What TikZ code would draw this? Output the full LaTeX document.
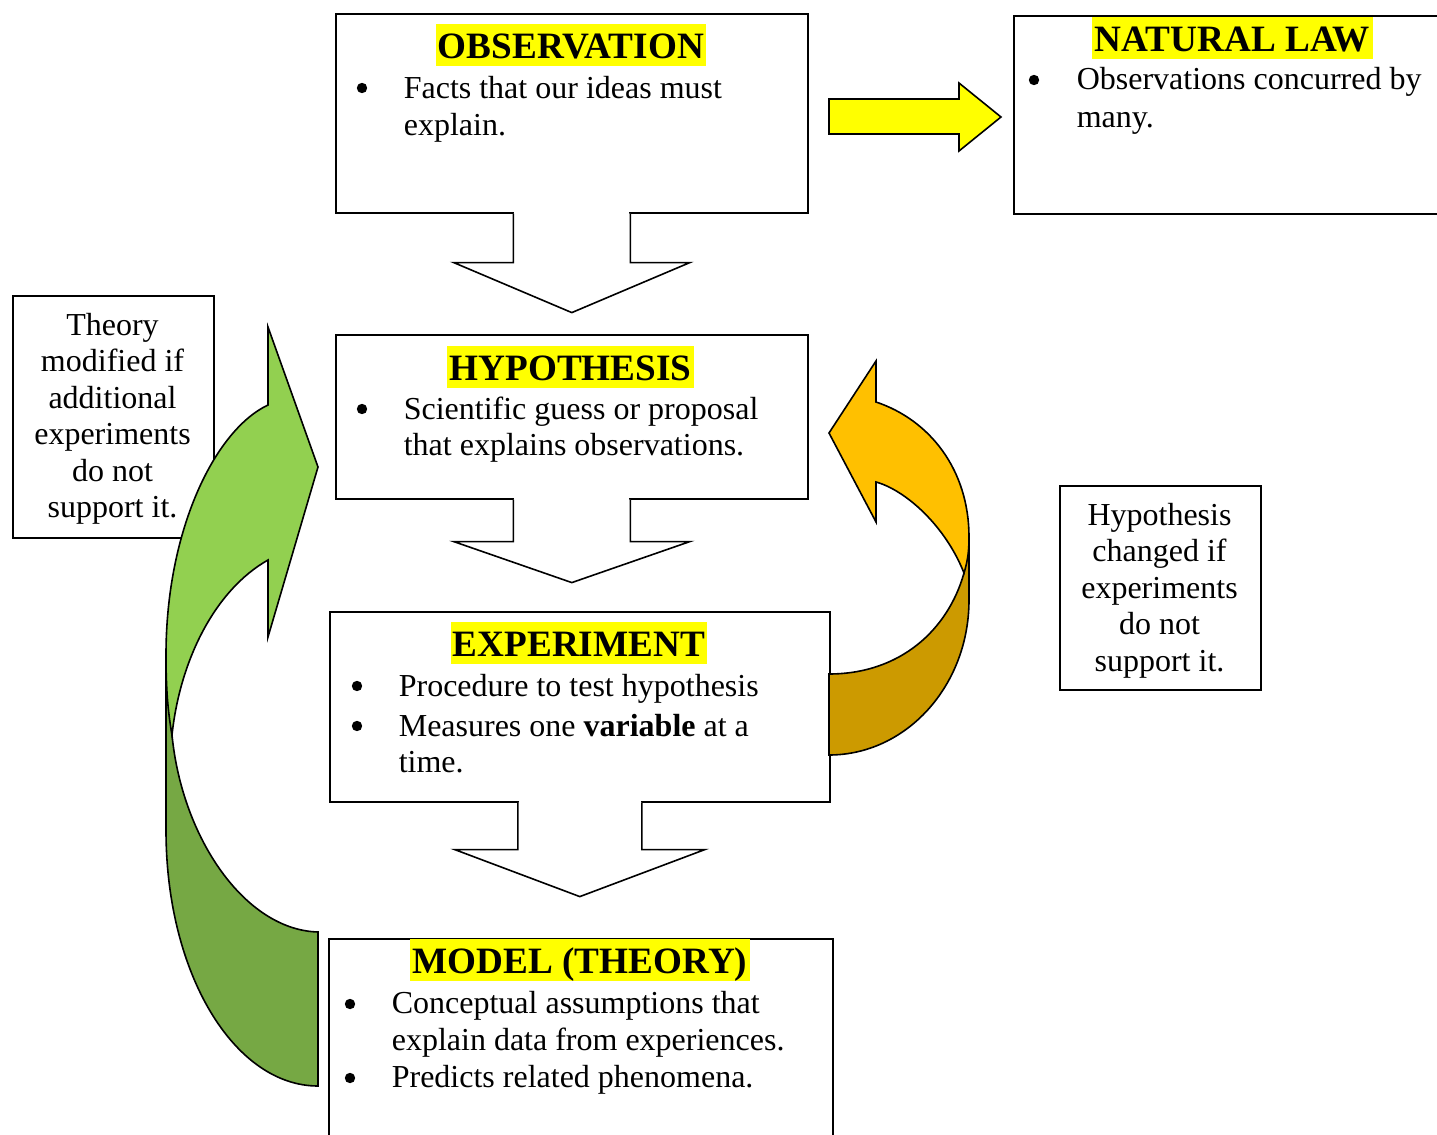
\documentclass[tikz,border=0pt]{standalone}
\usepackage{fontspec}
\setmainfont{Liberation Serif}
\usetikzlibrary{calc}
\definecolor{lgreen}{HTML}{92D050}
\definecolor{dgreen}{HTML}{76A844}
\definecolor{lorange}{HTML}{FFC000}
\definecolor{dorange}{HTML}{CC9A00}
\definecolor{hiyel}{HTML}{FFFF00}
\begin{document}
\begin{tikzpicture}[x=0.5pt,y=-0.5pt,line width=0.8pt,line join=miter,
  box/.style={draw,fill=white,inner sep=0pt,anchor=north west},
  tx/.style={font=\fontsize{16}{18.5}\selectfont,inner sep=0pt,anchor=base west},
  ct/.style={font=\fontsize{16}{18.5}\selectfont,inner sep=0pt,anchor=base},
  bl/.style={circle,fill=black,draw=none,inner sep=0pt,minimum size=5.2pt},
  ttl/.style={font=\fontsize{18.6}{21}\selectfont\bfseries,fill=hiyel,inner xsep=1.2pt,inner ysep=0pt,text height=16.8pt,text depth=4pt,anchor=base},
  blockarrow/.style={draw=black,fill=#1}]
\useasboundingbox (0,0) rectangle (1437,1135);

% ---------- side box: theory ----------
\node[box,minimum width=100.5pt,minimum height=121pt] (thbox) at (12,295) {};
\node[ct] (th1) at (112.5,335) {Theory};
\node[ct] (th2) at (112.5,371.5) {modified if};
\node[ct] (th3) at (112.5,408) {additional};
\node[ct] (th4) at (112.5,444.5) {experiments};
\node[ct] (th5) at (112.5,481) {do not};
\node[ct] (th6) at (112.5,517.5) {support it.};

% ---------- green curved arrow ----------
\path[blockarrow=dgreen] (318,932) .. controls (245,930) and (182,838) .. (172,735)
  -- (166,655) -- (166,830) .. controls (166,975) and (235,1086) .. (318,1086) -- cycle;
\path[blockarrow=lgreen] (268,405) -- (268,327) -- (318,467) -- (268,637) -- (268,560)
  .. controls (215,590) and (180,660) .. (172,735)
  .. controls (168,712) and (166,690) .. (166,655)
  .. controls (166,530) and (215,430) .. (268,405) -- cycle;

% ---------- main boxes ----------
\node[box,minimum width=236pt,minimum height=99.5pt] (obs) at (335,13) {};
\fill[white] ($(obs.south)+(-57.6,-3)$) rectangle ($(obs.south)+(57.6,3)$);
\filldraw[fill=white] ($(obs.south)+(-58.5,0)$) -- ++(0,49) -- ++(-59.5,0) -- ++(118,50)
  -- ++(118,-50) -- ++(-59.5,0) -- ++(0,-49);

\node[box,minimum width=236pt,minimum height=82pt] (hyp) at (335,334) {};
\fill[white] ($(hyp.south)+(-57.6,-3)$) rectangle ($(hyp.south)+(57.6,3)$);
\filldraw[fill=white] ($(hyp.south)+(-58.5,0)$) -- ++(0,42) -- ++(-59.5,0) -- ++(118,41)
  -- ++(118,-41) -- ++(-59.5,0) -- ++(0,-42);

\node[box,minimum width=250pt,minimum height=95pt] (exp) at (329,611) {};
\fill[white] ($(exp.south)+(-61.1,-3)$) rectangle ($(exp.south)+(61.1,3)$);
\filldraw[fill=white] ($(exp.south)+(-62,0)$) -- ++(0,47) -- ++(-63,0) -- ++(125,47)
  -- ++(125,-47) -- ++(-63,0) -- ++(0,-47);

\node[box,minimum width=252pt,minimum height=103.5pt] (mod) at (328,938) {};

\node[box,minimum width=216pt,minimum height=99pt] (nat) at (1013,15) {};

% ---------- side box: hypothesis changed ----------
\node[box,minimum width=100.5pt,minimum height=102pt] (hcbox) at (1059,485) {};
\node[ct] (hc1) at (1159.5,525) {Hypothesis};
\node[ct] (hc2) at (1159.5,561.5) {changed if};
\node[ct] (hc3) at (1159.5,598) {experiments};
\node[ct] (hc4) at (1159.5,634.5) {do not};
\node[ct] (hc5) at (1159.5,671) {support it.};

% ---------- orange curved arrow ----------
\path[blockarrow=dorange] (829,674) .. controls (900,674) and (948,630) .. (964,573)
  -- (969,537) -- (969,600) .. controls (969,686) and (906,755) .. (829,755) -- cycle;
\path[blockarrow=lorange] (876,402) -- (876,361) -- (829,433) -- (876,522) -- (876,482)
  .. controls (905,490) and (945,525) .. (964,573)
  .. controls (968,560) and (969,550) .. (969,537)
  .. controls (969,470) and (930,420) .. (876,402) -- cycle;

% ---------- yellow arrow ----------
\path[blockarrow=hiyel] (829,99) -- (959,99) -- (959,83) -- (1001,117) -- (959,151)
  -- (959,134) -- (829,134) -- cycle;

% ---------- texts ----------
\node[ttl] (tobs) at (571,58) {OBSERVATION};
\node[bl] (bo1) at (362,88) {};
\node[tx] (o1) at (403,98) {Facts that our ideas must};
\node[tx] (o2) at (403,135) {explain.};

\node[ttl] (tnat) at (1232.5,51) {NATURAL LAW};
\node[bl] (bn1) at (1034,80) {};
\node[tx] (n1) at (1076,90) {Observations concurred by};
\node[tx] (n2) at (1076,127) {many.};

\node[ttl] (thyp) at (570.5,380) {HYPOTHESIS};
\node[bl] (bh1) at (362,409) {};
\node[tx] (h1) at (403,419) {Scientific guess or proposal};
\node[tx] (h2) at (403,455) {that explains observations.};

\node[ttl] (texp) at (579,656) {EXPERIMENT};
\node[bl] (be1) at (357,686) {};
\node[tx] (e1) at (398,696) {Procedure to test hypothesis};
\node[bl] (be2) at (357,726) {};
\node[tx] (e2) at (398,736) {Measures one \textbf{variable} at a};
\node[tx] (e3) at (398,772) {time.};

\node[ttl] (tmod) at (580,973) {MODEL (THEORY)};
\node[bl] (bm1) at (350,1004) {};
\node[tx] (m1) at (391,1013) {Conceptual assumptions that};
\node[tx] (m2) at (391,1050) {explain data from experiences.};
\node[bl] (bm2) at (350,1078) {};
\node[tx] (m3) at (391,1087) {Predicts related phenomena.};
\end{tikzpicture}
\end{document}
